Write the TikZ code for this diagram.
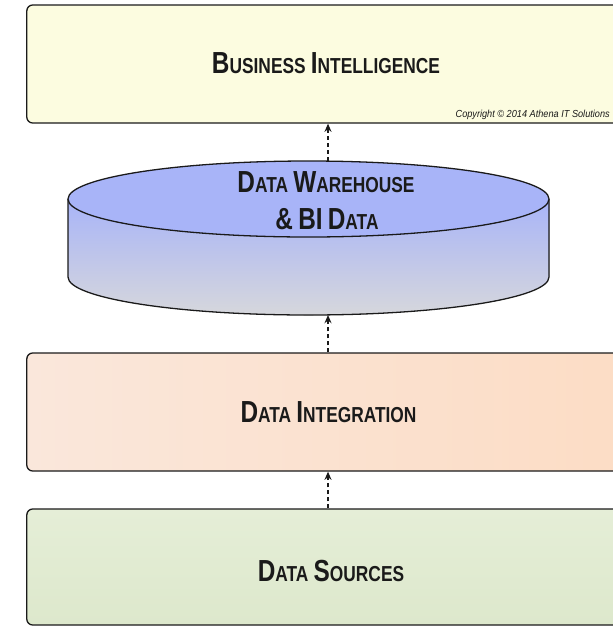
\documentclass[tikz,border=0pt]{standalone}
\usepackage{fontspec}
\setmainfont{Liberation Sans}
\newfontfamily\layerfont[FakeStretch=0.8]{Liberation Sans}
\newfontfamily\notefont[FakeStretch=0.9]{Liberation Sans}
\usetikzlibrary{arrows.meta,positioning,calc}

\definecolor{biyellow}{RGB}{252,252,224}
\definecolor{dwtop}{RGB}{168,180,248}
\definecolor{dwbottom}{RGB}{214,215,220}
\definecolor{dileft}{RGB}{250,231,219}
\definecolor{diright}{RGB}{252,220,196}
\definecolor{dsgreentop}{RGB}{229,238,215}
\definecolor{dsgreenbot}{RGB}{221,232,204}
\definecolor{inkdark}{RGB}{26,26,26}

% big initial + small caps rest
\newcommand{\layercap}[2]{{\fontsize{26}{28}\selectfont #1}{\fontsize{18.5}{20}\selectfont #2}}

\tikzset{
	layer/.style={draw=inkdark, line width=1.1pt, rounded corners=5pt,
		minimum width=18.7cm, minimum height=3.54cm, inner sep=0pt},
	layertext/.style={font=\layerfont\bfseries\fontsize{20}{22}\selectfont, text=inkdark, inner sep=0pt},
	flow/.style={-{Stealth[length=7pt,width=6pt]}, line width=1.2pt,
		dash pattern=on 3.5pt off 2.5pt, draw=inkdark},
}

\begin{document}
\begin{tikzpicture}[x=0.03cm, y=-0.03cm]
	\useasboundingbox (0,0) rectangle (613,630);
	\clip (0,0) rectangle (613,630);
	
	% Business intelligence layer
	\node[layer, fill=biyellow] (bi) at (338.5,64) {};
	\node[layertext] (bititle) at (326,63) {\layercap{B}{USINESS} \layercap{I}{NTELLIGENCE}};
	\node[font=\notefont\itshape\fontsize{8.7}{10}\selectfont, text=inkdark,
		anchor=base east, inner sep=0pt] (copy) at (610,117)
		{Copyright \textcopyright{} 2014 Athena IT Solutions};
	
	% Data warehouse cylinder
	\begin{scope}
		\coordinate (dwtop) at (328,161);
		\coordinate (dwbot) at (328,315);
		\fill[top color=dwtop, bottom color=dwbottom]
			(68,199) -- (68,277) arc[start angle=180, end angle=360, x radius=7.215cm, y radius=1.14cm]
			-- (549,199) -- cycle;
		\draw[draw=inkdark, line width=1.1pt]
			(68,199) -- (68,277) arc[start angle=180, end angle=360, x radius=7.215cm, y radius=1.14cm]
			-- (549,199);
		\draw[draw=inkdark, line width=1.1pt, fill=dwtop] (308.5,199) ellipse [x radius=7.215cm, y radius=1.14cm];
		
		\node[layertext] (dwtitle) at (326,182) {\layercap{D}{ATA} \layercap{W}{AREHOUSE}};
		\node[layertext] (dwsub) at (327,219) {\layercap{\&}{} \layercap{BI}{} \layercap{D}{ATA}};
	\end{scope}
	
	% Data integration layer
	\node[layer, left color=dileft, right color=diright] (di) at (338.5,412) {};
	\node[layertext] (dititle) at (328.5,412) {\layercap{D}{ATA} \layercap{I}{NTEGRATION}};
	
	% Data sources layer
	\node[layer, minimum height=3.48cm, top color=dsgreentop, bottom color=dsgreenbot] (ds) at (338.5,567) {};
	\node[layertext] (dstitle) at (331,571) {\layercap{D}{ATA} \layercap{S}{OURCES}};
	
	% Flows between layers
	\draw[flow] (dwtop) -- (bi.south -| dwtop);
	\draw[flow] (di.north -| dwbot) -- (dwbot);
	\draw[flow] (ds.north -| dwbot) -- (di.south -| dwbot);
\end{tikzpicture}
\end{document}
